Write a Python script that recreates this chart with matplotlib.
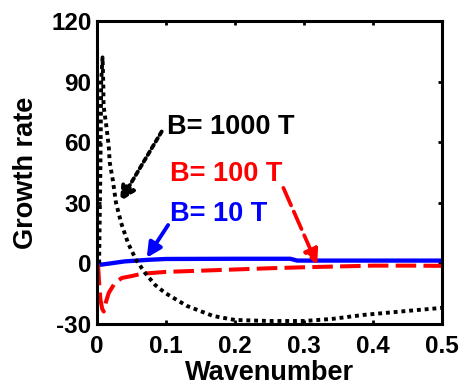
import matplotlib
matplotlib.use("Agg")
import matplotlib.pyplot as plt

plt.rcParams['font.family'] = ['Liberation Sans', 'DejaVu Sans']
plt.rcParams['font.weight'] = 'bold'
plt.rcParams['axes.unicode_minus'] = False

# Growth rate vs wavenumber for three magnetic field strengths
k_1000 = [0.003, 0.005, 0.006, 0.008, 0.009, 0.0095, 0.0135, 0.017, 0.0184, 0.023, 0.0275,
          0.035, 0.045, 0.0565, 0.0696, 0.084, 0.0986, 0.13, 0.168, 0.2, 0.25, 0.3,
          0.34, 0.386, 0.45, 0.5]
g_1000 = [0, 50, 90, 102, 90, 78, 68, 58, 50, 41, 30, 20, 10, 1.8, -4.7, -10.6, -14.6,
          -21, -26, -28, -28.5, -28.5, -27.5, -25.5, -23.5, -22]

k_100 = [0.0015, 0.003, 0.005, 0.0075, 0.0097, 0.013, 0.017, 0.026, 0.036, 0.051, 0.065,
         0.1, 0.15, 0.2, 0.25, 0.3, 0.35, 0.4, 0.45, 0.5]
g_100 = [-0.7, -9.5, -18, -22.5, -23.8, -19, -14.6, -9.6, -7.2, -6.2, -5.1, -4.2, -3.6,
         -3.0, -2.4, -1.9, -1.5, -1.1, -1.1, -1.2]

k_10 = [0, 0.004, 0.015, 0.04, 0.075, 0.1, 0.2, 0.28, 0.29, 0.4, 0.5]
g_10 = [0, -0.7, -0.2, 1.0, 1.8, 2.2, 2.3, 2.3, 1.4, 1.4, 1.4]

x_ticks = [0, 0.1, 0.2, 0.3, 0.4, 0.5]
x_tick_labels = ['0', '0.1', '0.2', '0.3', '0.4', '0.5']
y_ticks = [-30, 0, 30, 60, 90, 120]
y_tick_labels = ['-30', '0', '30', '60', '90', '120']

labels = ['B= 1000 T', 'B= 100 T', 'B= 10 T']
label_pos = [(0.101, 67.5), (0.106, 44.4), (0.106, 24.5)]
arrow_tail = [(0.0937, 65.3), (0.27, 37.4), (0.103, 19.0)]
arrow_head = [(0.0333, 30.6), (0.319, -0.7), (0.072, 2.8)]
colors = ['black', 'red', 'blue']
arrow_styles = [(0, (1, 1.0)), (0, (5.1, 1.8)), '-']
arrow_widths = [2.8, 2.7, 2.8]

fig = plt.figure(figsize=(4.62, 3.85), dpi=100)
ax = fig.add_axes([0.21, 0.1584, 0.747, 0.787])

ax.plot(k_10, g_10, color='blue', lw=3.1, solid_capstyle='butt')
ax.plot(k_100, g_100, color='red', lw=2.9, linestyle=(0, (5.1, 1.8)), dash_capstyle='butt')
ax.plot(k_1000, g_1000, color='black', lw=2.8, linestyle=(0, (1, 1.0)), dash_capstyle='butt')

for text, pos, tail, head, c, ls, w in zip(labels, label_pos, arrow_tail, arrow_head,
                                           colors, arrow_styles, arrow_widths):
    ax.annotate('', xy=head, xytext=tail,
                arrowprops=dict(arrowstyle='-|>', color=c, lw=w, linestyle=ls,
                                mutation_scale=22, shrinkA=0, shrinkB=0))
    ax.text(pos[0], pos[1], text, color=c, fontsize=19.5, fontweight='bold',
            ha='left', va='center')

ax.set_xlim(0, 0.5)
ax.set_ylim(-30, 120)
ax.set_xticks(x_ticks)
ax.set_xticklabels(x_tick_labels)
ax.set_yticks(y_ticks)
ax.set_yticklabels(y_tick_labels)
ax.tick_params(direction='in', length=3, width=2, top=True, right=True,
               labelsize=17.5)
ax.tick_params(axis='x', pad=8)
ax.tick_params(axis='y', pad=4)
for lbl in ax.get_xticklabels() + ax.get_yticklabels():
    lbl.set_fontweight('bold')
for sp in ax.spines.values():
    sp.set_linewidth(2.2)

ax.set_xlabel('Wavenumber', fontsize=19.5, fontweight='bold', labelpad=1)
ax.set_ylabel('Growth rate', fontsize=19.5, fontweight='bold', labelpad=9)

fig.savefig('out.png', dpi=100)
